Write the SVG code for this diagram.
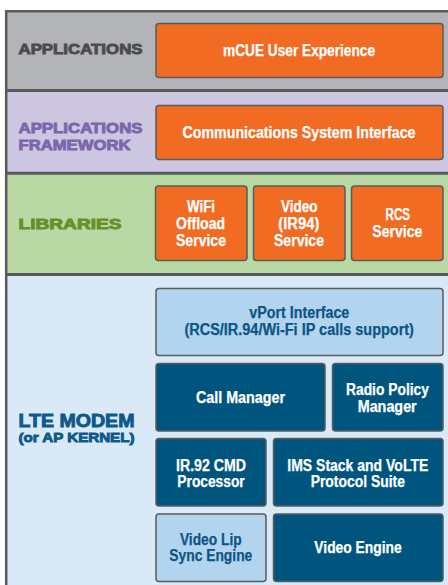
<svg xmlns="http://www.w3.org/2000/svg" width="448" height="585" viewBox="0 0 448 585">
<style>
.band{stroke:none}
.div{stroke:#58595b;stroke-width:3}
.box{stroke:#5a5b5d;stroke-width:1.5}
.or{fill:#f26b23}
.db{fill:#00557f}
.lb{fill:#b3d4ee}
.bt{font-family:"Liberation Sans",Arial,sans-serif;font-weight:bold;font-size:16px;text-anchor:middle;fill:#ffffff;stroke:#ffffff;stroke-width:0.25}
.bt.dk{fill:#0b5686;stroke:#0b5686}
.sec{font-family:"Liberation Sans",Arial,sans-serif;font-weight:bold;stroke-width:0.9}
</style>
<rect width="448" height="585" fill="#ffffff"/>
<g id="bands">
<rect class="band" x="6" y="11" width="442" height="79" fill="#b2b4b7"/>
<rect class="band" x="6" y="91" width="442" height="82" fill="#ccc6e0"/>
<rect class="band" x="6" y="174" width="442" height="100" fill="#b8d9a4"/>
<rect class="band" x="6" y="275" width="442" height="310" fill="#d9e9f6"/>
<line class="div" x1="6" y1="90.5" x2="448" y2="90.5"/>
<line class="div" x1="6" y1="173.2" x2="448" y2="173.2"/>
<line class="div" x1="6" y1="274.5" x2="448" y2="274.5"/>
<path d="M6.2 585 V11.2 H448" fill="none" stroke="#58595b" stroke-width="2.5"/>
</g>
<g id="labels">
<text class="sec" x="18.5" y="54" font-size="15" fill="#4b4c4e" stroke="#4b4c4e" textLength="124" lengthAdjust="spacingAndGlyphs">APPLICATIONS</text>
<text class="sec" x="18.5" y="133" font-size="15" fill="#7c67ad" stroke="#7c67ad" textLength="124" lengthAdjust="spacingAndGlyphs">APPLICATIONS</text>
<text class="sec" x="18.5" y="149.5" font-size="15" fill="#7c67ad" stroke="#7c67ad" textLength="112" lengthAdjust="spacingAndGlyphs">FRAMEWORK</text>
<text class="sec" x="18.5" y="229" font-size="15" fill="#6b8e2b" stroke="#6b8e2b" textLength="103" lengthAdjust="spacingAndGlyphs">LIBRARIES</text>
<text class="sec" x="18.5" y="427" font-size="19" fill="#0d5a8a" stroke="#0d5a8a" textLength="116" lengthAdjust="spacingAndGlyphs">LTE MODEM</text>
<text class="sec" x="18.5" y="442" font-size="13.4" fill="#0d5a8a" stroke="#0d5a8a" stroke-width="0.7" textLength="116" lengthAdjust="spacingAndGlyphs">(or AP KERNEL)</text>
</g>
<g id="mcue">
<rect class="box or" x="156" y="23.5" width="287" height="54" rx="3"/>
<text class="bt" x="299" y="55.5" textLength="152" lengthAdjust="spacingAndGlyphs">mCUE User Experience</text>
</g>
<g id="csi">
<rect class="box or" x="156" y="105.5" width="287" height="54" rx="3"/>
<text class="bt" x="299" y="137.5" textLength="233" lengthAdjust="spacingAndGlyphs">Communications System Interface</text>
</g>
<g id="wifi">
<rect class="box or" x="155.5" y="186" width="91.5" height="74.5" rx="3"/>
<text class="bt" x="201" y="212" textLength="28" lengthAdjust="spacingAndGlyphs">WiFi</text>
<text class="bt" x="200.5" y="229" textLength="49" lengthAdjust="spacingAndGlyphs">Offload</text>
<text class="bt" x="201" y="246" textLength="50" lengthAdjust="spacingAndGlyphs">Service</text>
</g>
<g id="video">
<rect class="box or" x="253.5" y="186" width="91.5" height="74.5" rx="3"/>
<text class="bt" x="299.3" y="212" textLength="36.5" lengthAdjust="spacingAndGlyphs">Video</text>
<text class="bt" x="298.8" y="229" textLength="41" lengthAdjust="spacingAndGlyphs">(IR94)</text>
<text class="bt" x="299" y="246" textLength="50" lengthAdjust="spacingAndGlyphs">Service</text>
</g>
<g id="rcs">
<rect class="box or" x="351.5" y="186" width="91.5" height="74.5" rx="3"/>
<text class="bt" x="397.8" y="219.5" textLength="24.5" lengthAdjust="spacingAndGlyphs">RCS</text>
<text class="bt" x="397.3" y="236.5" textLength="50" lengthAdjust="spacingAndGlyphs">Service</text>
</g>
<g id="vport">
<rect class="box lb" x="156" y="288.5" width="287" height="67" rx="3"/>
<text class="bt dk" x="299.3" y="318" textLength="100" lengthAdjust="spacingAndGlyphs">vPort Interface</text>
<text class="bt dk" x="299.2" y="335" textLength="229.5" lengthAdjust="spacingAndGlyphs">(RCS/IR.94/Wi-Fi IP calls support)</text>
</g>
<g id="callmgr">
<rect class="box db" x="156" y="363.5" width="169" height="67.5" rx="3"/>
<text class="bt" x="240.5" y="403" textLength="89" lengthAdjust="spacingAndGlyphs">Call Manager</text>
</g>
<g id="radio">
<rect class="box db" x="332.5" y="363.5" width="110.5" height="67.5" rx="3"/>
<text class="bt" x="387.5" y="395" textLength="83" lengthAdjust="spacingAndGlyphs">Radio Policy</text>
<text class="bt" x="387.2" y="411.5" textLength="59" lengthAdjust="spacingAndGlyphs">Manager</text>
</g>
<g id="ir92">
<rect class="box db" x="156" y="438.5" width="110" height="67.5" rx="3"/>
<text class="bt" x="211" y="470.5" textLength="70" lengthAdjust="spacingAndGlyphs">IR.92 CMD</text>
<text class="bt" x="211" y="487" textLength="67.3" lengthAdjust="spacingAndGlyphs">Processor</text>
</g>
<g id="ims">
<rect class="box db" x="273.5" y="438.5" width="169.5" height="67.5" rx="3"/>
<text class="bt" x="357.8" y="470.5" textLength="141" lengthAdjust="spacingAndGlyphs">IMS Stack and VoLTE</text>
<text class="bt" x="357.8" y="487" textLength="94.3" lengthAdjust="spacingAndGlyphs">Protocol Suite</text>
</g>
<g id="lipsync">
<rect class="box lb" x="156" y="514" width="110" height="67.5" rx="3"/>
<text class="bt dk" x="210.8" y="544.5" textLength="61.7" lengthAdjust="spacingAndGlyphs">Video Lip</text>
<text class="bt dk" x="210.8" y="561" textLength="83" lengthAdjust="spacingAndGlyphs">Sync Engine</text>
</g>
<g id="vengine">
<rect class="box db" x="273.5" y="514" width="169.5" height="67.5" rx="3"/>
<text class="bt" x="358" y="553" textLength="87.3" lengthAdjust="spacingAndGlyphs">Video Engine</text>
</g>
<g id="connectors"></g>
</svg>
